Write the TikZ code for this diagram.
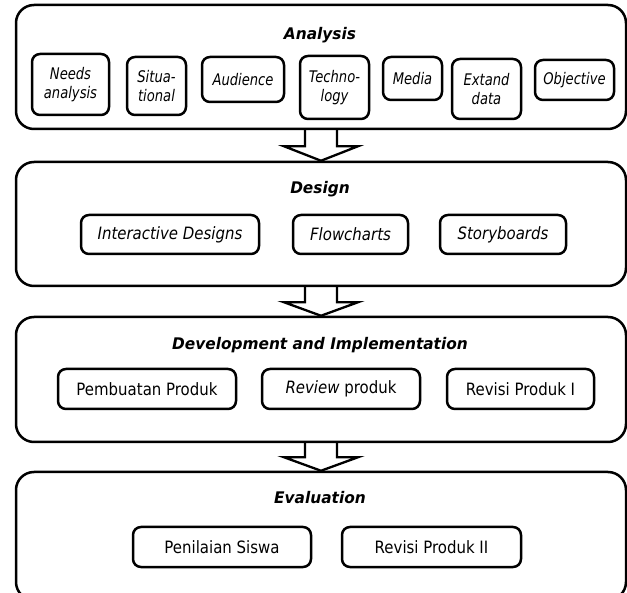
\documentclass[tikz,border=0pt]{standalone}
\usepackage{fontspec}
\setmainfont{DejaVu Sans}[FakeStretch=0.88]
\newfontfamily\titlefont{DejaVu Sans}[FakeStretch=0.96]
\newfontfamily\smallfont{DejaVu Sans}[FakeStretch=0.82]
\usetikzlibrary{calc}
\begin{document}
\begin{tikzpicture}[x=1pt,y=-1pt,
 phase/.style={draw, line width=2.5pt, rounded corners=18pt, minimum width=610pt, inner sep=0pt},
 item/.style={draw, line width=2.5pt, rounded corners=8pt, inner sep=0pt, align=center},
 sitem/.style={item, font=\smallfont\fontsize{16}{19}\selectfont\itshape},
 ditem/.style={item, font=\fontsize{17}{20}\selectfont\itshape},
 ritem/.style={item, font=\fontsize{17}{20}\selectfont},
 ttl/.style={font=\titlefont\fontsize{16}{19}\selectfont\bfseries\itshape, inner sep=0pt},
 blockarrow/.style={draw, line width=2.3pt, line join=miter}
]
\useasboundingbox (0,0) rectangle (627,593);

% phases
\node[phase, minimum height=124pt] (ana) at (321,67) {};
\node[phase, minimum height=124pt] (des) at (321,224) {};
\node[phase, minimum height=125pt] (dev) at (321,379.5) {};
\node[phase, minimum height=128pt] (eva) at (321,536) {};

% titles
\node[ttl] (tana) at (320,35) {Analysis};
\node[ttl] (tdes) at (320,189) {Design};
\node[ttl] (tdev) at (320,345) {Development and Implementation};
\node[ttl] (teva) at (320,498) {Evaluation};

% analysis items
\node[sitem, minimum width=77pt, minimum height=61pt] (a1) at (70.5,84.5) {Needs\\analysis};
\node[sitem, minimum width=59pt, minimum height=58pt] (a2) at (156.5,86) {Situa-\\tional};
\node[sitem, minimum width=82pt, minimum height=45pt] (a3) at (243,79.5) {Audience};
\node[sitem, minimum width=69pt, minimum height=63pt] (a4) at (334.5,87.5) {Techno-\\logy};
\node[sitem, minimum width=59pt, minimum height=43pt] (a5) at (412.5,78.5) {Media};
\node[sitem, minimum width=69pt, minimum height=60pt] (a6) at (486.5,89) {Extand\\data};
\node[sitem, minimum width=79pt, minimum height=40pt] (a7) at (574.5,80) {Objective};

% design items
\node[ditem, minimum width=178pt, minimum height=39pt] (d1) at (170,234.5) {Interactive Designs};
\node[ditem, minimum width=115pt, minimum height=39pt] (d2) at (350.5,234.5) {Flowcharts};
\node[ditem, minimum width=126pt, minimum height=39pt] (d3) at (503,234.5) {Storyboards};

% development items
\node[ritem, minimum width=178pt, minimum height=40pt] (v1) at (147,389) {Pembuatan Produk};
\node[ritem, minimum width=158pt, minimum height=40pt] (v2) at (341,389) {\textit{Review} produk};
\node[ritem, minimum width=147pt, minimum height=40pt] (v3) at (520.5,389) {Revisi Produk I};

% evaluation items
\node[ritem, minimum width=178pt, minimum height=40pt] (e1) at (222,547) {Penilaian Siswa};
\node[ritem, minimum width=179pt, minimum height=40pt] (e2) at (431.5,547) {Revisi Produk II};

% block arrows
\draw[blockarrow] ($(ana.south)+(-16,0)$) -- ($(ana.south)+(-16,16)$) -- ($(ana.south)+(-37,16)$)
  -- (des.north) -- ($(ana.south)+(37,16)$) -- ($(ana.south)+(16,16)$) -- ($(ana.south)+(16,0)$);
\draw[blockarrow] ($(des.south)+(-16,0)$) -- ($(des.south)+(-16,15)$) -- ($(des.south)+(-37,15)$)
  -- (dev.north) -- ($(des.south)+(37,15)$) -- ($(des.south)+(16,15)$) -- ($(des.south)+(16,0)$);
\draw[blockarrow] ($(dev.south)+(-16,0)$) -- ($(dev.south)+(-16,14)$) -- ($(dev.south)+(-37,14)$)
  -- (eva.north) -- ($(dev.south)+(37,14)$) -- ($(dev.south)+(16,14)$) -- ($(dev.south)+(16,0)$);
\end{tikzpicture}
\end{document}
